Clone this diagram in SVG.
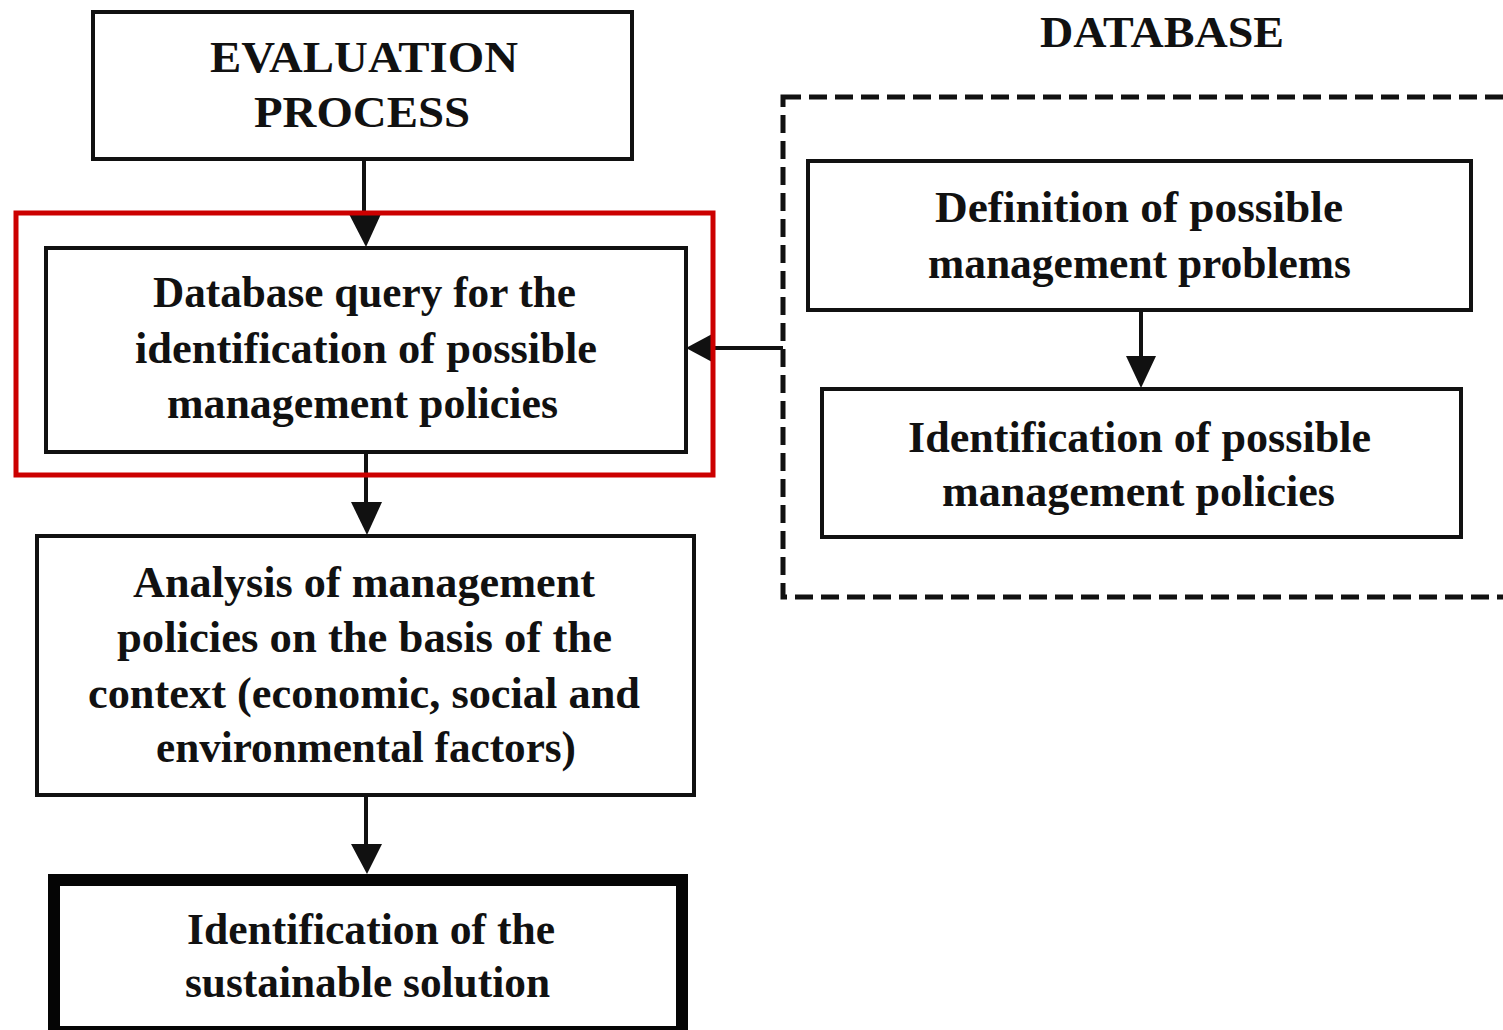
<svg xmlns="http://www.w3.org/2000/svg" width="1503" height="1030" viewBox="0 0 1503 1030">
<defs>
<style>
.box{fill:#fff;stroke:#111;stroke-width:4}
.t{font-family:"Liberation Serif","Times New Roman",serif;font-weight:bold;font-size:44px;fill:#111;text-anchor:middle}
.c{stroke:#111;stroke-width:4;fill:none}
</style>
<marker id="ah" viewBox="0 0 10 10" refX="10" refY="5" markerWidth="8" markerHeight="8" markerUnits="userSpaceOnUse" orient="auto">
<path d="M0,0 L10,5 L0,10 Z" fill="#111"/>
</marker>
</defs>
<rect width="1503" height="1030" fill="#fff"/>
<g id="database-group">
<rect x="783" y="97" width="740" height="500" fill="none" stroke="#111" stroke-width="5" stroke-dasharray="18 8"/>
<text class="t" x="1162" y="47" textLength="244" lengthAdjust="spacingAndGlyphs">DATABASE</text>
</g>
<g id="connectors">
<line class="c" x1="364" y1="159" x2="364" y2="216"/>
<path d="M349,214 L381,214 L366,247 Z" fill="#111"/>
<line class="c" x1="366" y1="452" x2="366" y2="504"/>
<path d="M351,502 L382,502 L367,535 Z" fill="#111"/>
<line class="c" x1="366" y1="795" x2="366" y2="846"/>
<path d="M351,844 L382,844 L367,874 Z" fill="#111"/>
<line class="c" x1="1141" y1="310" x2="1141" y2="358"/>
<path d="M1126,356 L1156,356 L1141,388 Z" fill="#111"/>
<line class="c" x1="783" y1="348" x2="712" y2="348"/>
<path d="M714,333 L714,363 L686,348 Z" fill="#111"/>
</g>
<g id="evaluation-process">
<rect class="box" x="93" y="12" width="539" height="147"/>
<text class="t" x="364" y="72" textLength="308" lengthAdjust="spacingAndGlyphs">EVALUATION</text>
<text class="t" x="362" y="127" textLength="216" lengthAdjust="spacingAndGlyphs">PROCESS</text>
</g>
<g id="highlight">
<rect x="16" y="213" width="697" height="262" fill="none" stroke="#cc0000" stroke-width="5"/>
</g>
<g id="database-query">
<rect class="box" x="46" y="248" width="640" height="204" stroke-width="3"/>
<text class="t" x="364.5" y="307" textLength="423" lengthAdjust="spacingAndGlyphs">Database query for the</text>
<text class="t" x="366" y="363" textLength="462" lengthAdjust="spacingAndGlyphs">identification of possible</text>
<text class="t" x="362.5" y="418" textLength="391" lengthAdjust="spacingAndGlyphs">management policies</text>
</g>
<g id="analysis">
<rect class="box" x="37" y="536" width="657" height="259" stroke-width="3"/>
<text class="t" x="364" y="597" textLength="462" lengthAdjust="spacingAndGlyphs">Analysis of management</text>
<text class="t" x="364.5" y="652" textLength="495" lengthAdjust="spacingAndGlyphs">policies on the basis of the</text>
<text class="t" x="364" y="708" textLength="552" lengthAdjust="spacingAndGlyphs">context (economic, social and</text>
<text class="t" x="366" y="762" textLength="420" lengthAdjust="spacingAndGlyphs">environmental factors)</text>
</g>
<g id="sustainable-solution">
<rect x="54" y="880" width="628" height="152" fill="#fff" stroke="#050505" stroke-width="12"/>
<text class="t" x="371" y="944" textLength="368" lengthAdjust="spacingAndGlyphs">Identification of the</text>
<text class="t" x="367.5" y="997" textLength="365" lengthAdjust="spacingAndGlyphs">sustainable solution</text>
</g>
<g id="definition-problems">
<rect class="box" x="808" y="161" width="663" height="149"/>
<text class="t" x="1139" y="222" textLength="408" lengthAdjust="spacingAndGlyphs">Definition of possible</text>
<text class="t" x="1139.5" y="278" textLength="423" lengthAdjust="spacingAndGlyphs">management problems</text>
</g>
<g id="identification-policies">
<rect class="box" x="822" y="389" width="639" height="148"/>
<text class="t" x="1139.5" y="452" textLength="463" lengthAdjust="spacingAndGlyphs">Identification of possible</text>
<text class="t" x="1138.5" y="506" textLength="393" lengthAdjust="spacingAndGlyphs">management policies</text>
</g>
</svg>
